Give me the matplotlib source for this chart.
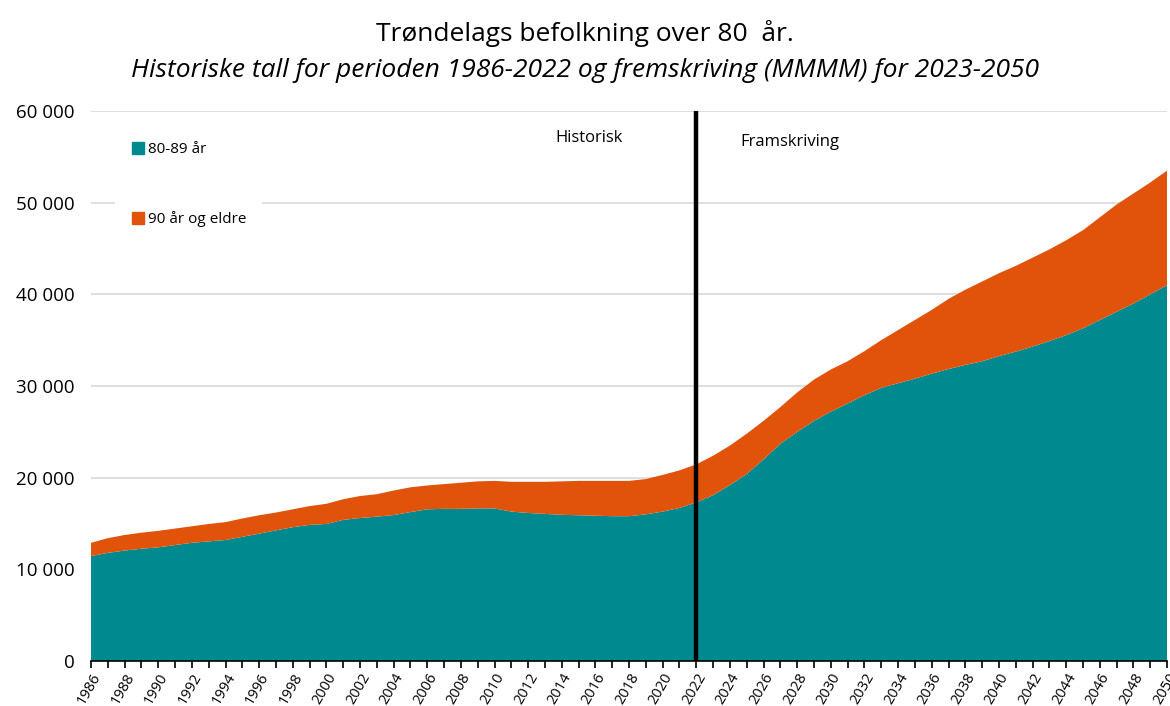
import numpy as np
import matplotlib.pyplot as plt
from matplotlib.lines import Line2D

plt.rcParams['font.family'] = ['Open Sans', 'DejaVu Sans']

years = list(range(1986, 2051))

# 80-89 år
age_80_89 = [
    11450, 11800, 12050, 12250, 12400, 12650, 12900, 13050, 13200, 13550,
    13900, 14250, 14600, 14850, 14950, 15400, 15600, 15750, 15920, 16250,
    16550, 16600, 16600, 16650, 16650, 16300, 16150, 16050, 15950, 15900,
    15850, 15800, 15800, 16000, 16300, 16700, 17300, 18100, 19200, 20400,
    22000, 23700, 25000, 26200, 27200, 28100, 29000, 29800, 30300, 30800,
    31350, 31850, 32300, 32700, 33250, 33750, 34300, 34900, 35550, 36300,
    37200, 38100, 39000, 40000, 41000,
]

# 90 år og eldre
age_90_plus = [
    1450, 1600, 1700, 1750, 1800, 1800, 1800, 1900, 1950, 2000,
    2000, 1950, 1950, 2050, 2200, 2250, 2400, 2450, 2680, 2700,
    2600, 2700, 2850, 2950, 3000, 3250, 3400, 3500, 3650, 3750,
    3800, 3850, 3850, 3850, 4000, 4100, 4150, 4300, 4300, 4400,
    4200, 4000, 4300, 4500, 4600, 4600, 4800, 5200, 5800, 6400,
    6950, 7650, 8200, 8700, 9050, 9350, 9700, 10000, 10350, 10700,
    11200, 11700, 12000, 12200, 12500,
]

labels = ['80-89 år', '90 år og eldre']
colors = ['#008A8F', '#E1530A']
split_year = 2022

fig = plt.figure(figsize=(11.7, 7.06), dpi=100)
ax = fig.add_axes([0.0778, 0.0637, 0.9197, 0.7791])

ax.stackplot(years, age_80_89, age_90_plus, colors=colors, zorder=2,
             linewidth=0)
ax.axvline(split_year, color='black', lw=3.2, zorder=4)

ax.set_xlim(1986, 2050)
ax.set_ylim(0, 60000)

ax.set_yticks(np.arange(0, 60001, 10000))
ax.set_yticklabels([f'{v:,}'.replace(',', ' ') for v in range(0, 60001, 10000)],
                   fontsize=13.5)
ax.yaxis.grid(True, color='#d9d9d9', lw=1.2, zorder=0)
ax.tick_params(axis='y', length=0, pad=12)

ax.set_xticks(range(1986, 2051, 2))
ax.set_xticks(range(1986, 2051), minor=True)
ax.set_xticklabels([str(y) for y in range(1986, 2051, 2)], rotation=60,
                   ha='right', rotation_mode='anchor', fontsize=10.5)
ax.tick_params(axis='x', which='both', length=5, width=1.2, color='black',
               direction='out', pad=1.5)

for side in ['top', 'right', 'left']:
    ax.spines[side].set_visible(False)
ax.spines['bottom'].set_color('black')
ax.spines['bottom'].set_linewidth(1.2)
ax.spines['bottom'].set_zorder(5)

ax.text(2013.6, 57100, 'Historisk', fontsize=12, ha='left', va='center')
ax.text(2024.6, 56600, 'Framskriving', fontsize=12, ha='left', va='center')

handles = [Line2D([], [], marker='s', ls='', color=c, markersize=8) for c in colors]
leg = ax.legend(handles, labels, loc='upper left', bbox_to_anchor=(0.015, 0.985),
                fontsize=11, frameon=True, labelspacing=3.55, handletextpad=0.2,
                handlelength=1.0, borderpad=1.0)
leg.get_frame().set_facecolor('white')
leg.get_frame().set_edgecolor('none')
leg.get_frame().set_alpha(1)

fig.text(0.5, 0.953, 'Trøndelags befolkning over 80  år.', ha='center',
         va='center', fontsize=19)
fig.text(0.5, 0.9, 'Historiske tall for perioden 1986-2022 og fremskriving (MMMM) for 2023-2050',
         ha='center', va='center', fontsize=19, style='italic')

fig.savefig('out.png', dpi=100)
